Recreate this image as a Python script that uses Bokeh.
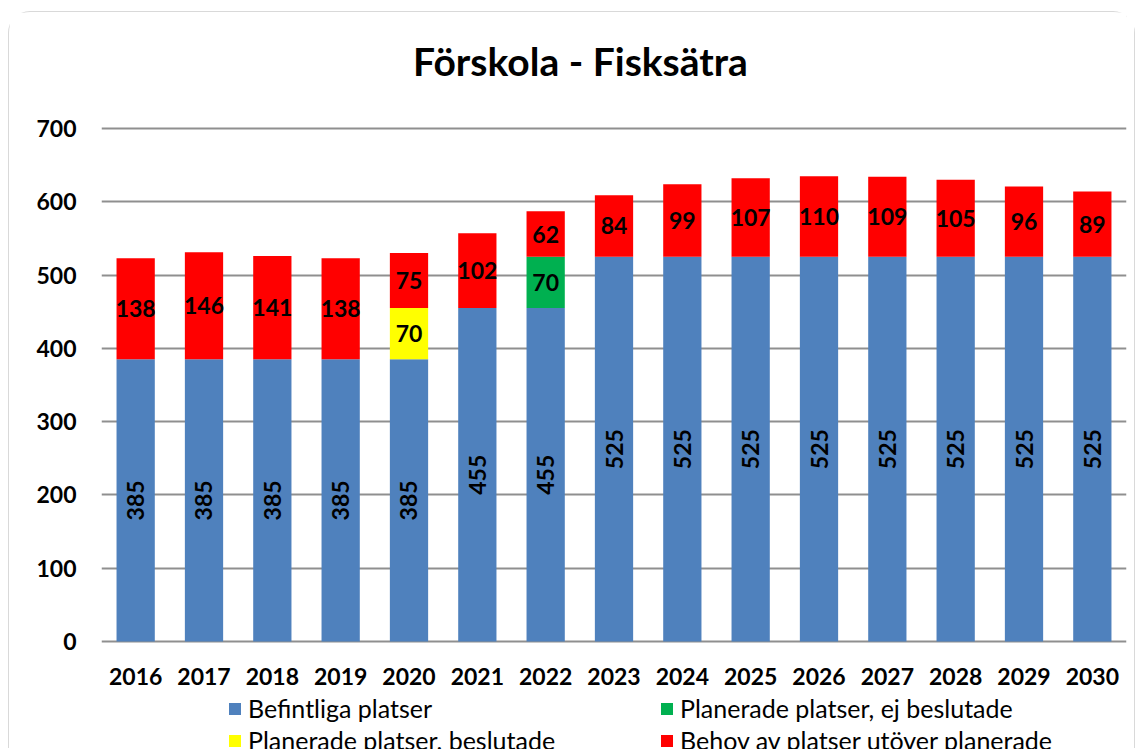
import math
from bokeh.plotting import figure
from bokeh.models import (ColumnDataSource, FactorRange, Range1d, LabelSet, Label,
                          Legend, LegendItem, FixedTicker)
from bokeh.core.properties import value
from bokeh.embed import file_html
from bokeh.resources import INLINE

years = [str(y) for y in range(2016, 2031)]
befintliga = [385, 385, 385, 385, 385, 455, 455, 525, 525, 525, 525, 525, 525, 525, 525]
beslutade = [0, 0, 0, 0, 70, 0, 0, 0, 0, 0, 0, 0, 0, 0, 0]
ej_beslutade = [0, 0, 0, 0, 0, 0, 70, 0, 0, 0, 0, 0, 0, 0, 0]
behov = [138, 146, 141, 138, 75, 102, 62, 84, 99, 107, 110, 109, 105, 96, 89]
y_ticks = [0, 100, 200, 300, 400, 500, 600, 700]

title_text = "Förskola - Fisksätra"
series_names = ["Befintliga platser", "Planerade platser, beslutade",
                "Planerade platser, ej beslutade", "Behov av platser utöver planerade"]
colors = ["#4F81BD", "#FFFF00", "#00B050", "#FF0000"]

FONT = "Lato"

# layout (pixels)
W, H = 1127, 737
TOP_PAD = 116        # figure top -> value 700
ZERO_FROM_BOTTOM = 108  # value 0 -> figure bottom
PLOT_H = H - TOP_PAD - ZERO_FROM_BOTTOM
ppu = PLOT_H / 700.0
y_end = 700 + TOP_PAD / ppu
y_start = -ZERO_FROM_BOTTOM / ppu
xlabel_y = -35 / ppu

src = ColumnDataSource(dict(years=years, befintliga=befintliga, beslutade=beslutade,
                            ej_beslutade=ej_beslutade, behov=behov))

p = figure(x_range=FactorRange(*years, range_padding=0), y_range=Range1d(y_start, y_end),
           width=W, height=H, output_backend="svg", toolbar_location=None,
           min_border_left=92, min_border_right=10, min_border_top=0, min_border_bottom=0)
p.styles = {"margin-left": "8px", "margin-top": "11px",
            "border-top": "1px solid #d9d9d9", "border-left": "1px solid #d9d9d9",
            "border-right": "1px solid #d9d9d9", "border-top-left-radius": "22px",
            "border-top-right-radius": "22px"}

rs = p.vbar_stack(["befintliga", "beslutade", "ej_beslutade", "behov"], x="years",
                  width=0.56, color=colors, line_color=None, source=src)

lab_kw = dict(text_align="center", text_baseline="middle", text_font=value(FONT),
              text_font_style="bold", text_font_size="23px", text_color="black")

blue_src = ColumnDataSource(dict(x=years, y=[v / 2 for v in befintliga],
                                 t=[str(v) for v in befintliga]))
p.add_layout(LabelSet(x="x", y="y", text="t", source=blue_src, angle=math.pi / 2, **lab_kw))

yx, yy, yt = [], [], []
for i, yr in enumerate(years):
    if beslutade[i] > 0:
        yx.append(yr); yy.append(befintliga[i] + beslutade[i] / 2); yt.append(str(beslutade[i]))
    if ej_beslutade[i] > 0:
        yx.append(yr); yy.append(befintliga[i] + beslutade[i] + ej_beslutade[i] / 2); yt.append(str(ej_beslutade[i]))
mid_src = ColumnDataSource(dict(x=yx, y=yy, t=yt))
p.add_layout(LabelSet(x="x", y="y", text="t", source=mid_src, **lab_kw))

red_y = [befintliga[i] + beslutade[i] + ej_beslutade[i] + behov[i] / 2 for i in range(len(years))]
red_src = ColumnDataSource(dict(x=years, y=red_y, t=[str(v) for v in behov]))
p.add_layout(LabelSet(x="x", y="y", text="t", source=red_src, **lab_kw))

# category labels under the zero line
p.text(x=years, y=[xlabel_y] * len(years), text=years, text_align="center",
       text_baseline="middle", text_font=value(FONT), text_font_style="bold",
       text_font_size="23px", text_color="black")

# title
p.add_layout(Label(x=479, y=H - 48, x_units="screen", y_units="screen", text=title_text,
                   text_align="center", text_baseline="middle", text_font=FONT,
                   text_font_style="bold", text_font_size="39px", text_color="black"))

# axes
p.outline_line_color = None
p.xaxis.visible = False
p.xgrid.grid_line_color = None
p.ygrid.ticker = FixedTicker(ticks=y_ticks)
p.ygrid.grid_line_color = "#8f8f8f"
p.ygrid.grid_line_width = 2
p.yaxis.ticker = FixedTicker(ticks=y_ticks)
p.yaxis.axis_line_color = None
p.yaxis.major_tick_line_color = None
p.yaxis.minor_tick_line_color = None
p.yaxis.major_tick_out = 0
p.yaxis.major_label_text_font = FONT
p.yaxis.major_label_text_font_style = "bold"
p.yaxis.major_label_text_font_size = "23px"
p.yaxis.major_label_text_color = "black"
p.yaxis.major_label_standoff = 25

order = [0, 2, 1, 3]
items = [LegendItem(label=series_names[k], renderers=[rs[k]]) for k in order]
legend = Legend(items=items, location=(126, -6), orientation="horizontal", ncols=2,
                glyph_width=15, glyph_height=15, label_standoff=6, label_width=409,
                label_height=30, spacing=2, padding=0, margin=0,
                label_text_font=FONT, label_text_font_size="25px", label_text_color="black",
                border_line_color=None, background_fill_alpha=0)
p.add_layout(legend, "center")

open("out.html", "w").write(file_html(p, INLINE))
